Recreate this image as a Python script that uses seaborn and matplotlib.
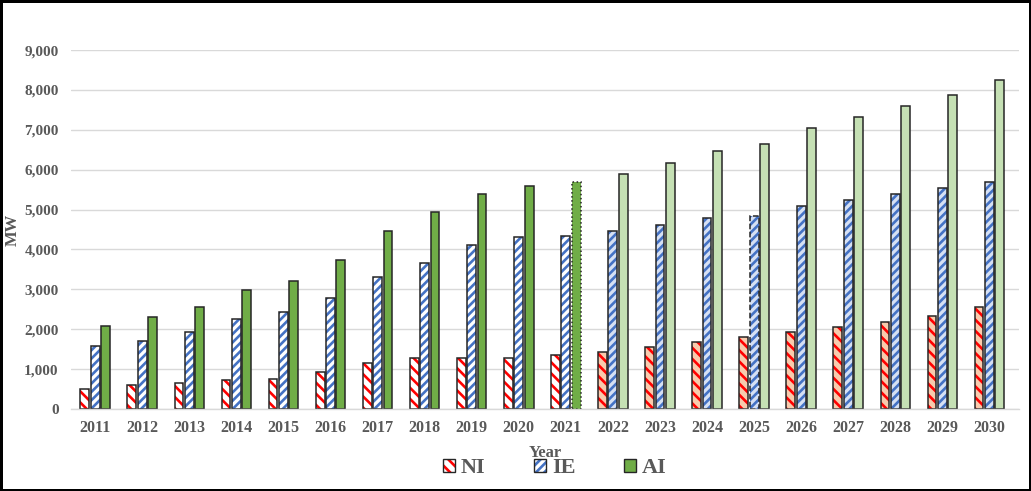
import numpy as np
import pandas as pd
import matplotlib
matplotlib.use('Agg')
import matplotlib.pyplot as plt
import seaborn as sns
from matplotlib.patches import Patch, Rectangle
from matplotlib.ticker import FuncFormatter

# installed capacity by year (MW), 2022 onwards is forecast
years = [str(y) for y in range(2011, 2031)]
ni = [500, 600, 650, 730, 760, 930, 1150, 1270, 1270, 1270,
      1350, 1430, 1560, 1680, 1810, 1930, 2060, 2190, 2330, 2550]
ie = [1580, 1700, 1920, 2260, 2440, 2790, 3310, 3660, 4110, 4320,
      4330, 4470, 4620, 4780, 4840, 5100, 5250, 5400, 5550, 5690]
ai = [2090, 2300, 2560, 2990, 3200, 3730, 4460, 4940, 5390, 5590,
      5680, 5900, 6180, 6470, 6650, 7040, 7310, 7600, 7880, 8250]
regions = ['NI', 'IE', 'AI']
first_forecast = 2022

df = pd.DataFrame({
    'Year': years * 3,
    'MW': ni + ie + ai,
    'Region': np.repeat(regions, len(years)),
})

# styles: (hatch colour, hatch, face actual, face forecast)
styles = {
    'NI': ('#ff0000', '\\\\\\', 'white', '#f8cbad'),
    'IE': ('#4472c4', '////', 'white', '#d6e0f3'),
    'AI': (None, None, '#70ad47', '#c5e0b4'),
}
edge = '#262626'
grey = '#595959'

sns.set_theme(style='white')
plt.rcParams['font.family'] = ['Liberation Serif', 'DejaVu Serif']
plt.rcParams['font.weight'] = 'bold'
plt.rcParams['hatch.linewidth'] = 1.9

fig = plt.figure(figsize=(10.31, 4.91), dpi=100, edgecolor='black', linewidth=2.5)
ax = fig.add_axes([0.069, 0.167, 0.919, 0.731])

sns.barplot(data=df, x='Year', y='MW', hue='Region', hue_order=regions,
            width=0.66, gap=0.15, errorbar=None, saturation=1,
            legend=False, ax=ax)

for container, region in zip(ax.containers, regions):
    hcol, hatch, face_a, face_f = styles[region]
    for bar in container:
        idx = int(round(bar.get_x() + bar.get_width() / 2))
        yr = int(years[idx])
        face = face_f if yr >= first_forecast else face_a
        bar.set_facecolor(face)
        if hatch:
            bar.set_hatch(hatch)
            bar.set_edgecolor(hcol)
        bar.set_linewidth(0)
        ls = '-'
        if region == 'AI' and yr == 2021:
            ls = ':'
        if region == 'IE' and yr == 2025:
            ls = '--'
        ax.add_patch(Rectangle((bar.get_x(), 0), bar.get_width(), bar.get_height(),
                               fill=False, edgecolor=edge, linewidth=1.1,
                               linestyle=ls, zorder=bar.get_zorder() + 0.1))

ax.set_xlim(-0.51, 19.62)
ax.set_ylim(0, 9000)
ax.set_yticks(range(0, 9001, 1000))
ax.yaxis.set_major_formatter(FuncFormatter(lambda v, p: f'{int(v):,}'))
ax.grid(axis='y', color='#d9d9d9', linewidth=1)
ax.set_axisbelow(True)
sns.despine(ax=ax, left=True, top=True, right=True)
ax.spines['bottom'].set_color('#d9d9d9')
ax.spines['bottom'].set_linewidth(1)
ax.tick_params(axis='y', length=0, labelsize=11, labelcolor=grey, pad=9)
ax.tick_params(axis='x', length=0, labelsize=11.5, labelcolor=grey, pad=8)

ax.set_xlabel('Year', fontsize=12, color=grey, fontweight='bold')
ax.xaxis.set_label_coords(0.5, -0.1)
ax.set_ylabel('MW', fontsize=12, color=grey, fontweight='bold')
ax.yaxis.set_label_coords(-0.053, 0.5)

handles = []
for region in regions:
    hcol, hatch, face_a, face_f = styles[region]
    if hatch:
        h = (Patch(facecolor=face_a, edgecolor=hcol, hatch=hatch, linewidth=0),
             Patch(fill=False, edgecolor=edge, linewidth=1))
    else:
        h = Patch(facecolor=face_a, edgecolor=edge, linewidth=1)
    handles.append(h)

leg = fig.legend(handles, regions, loc='center', bbox_to_anchor=(0.538, 0.046),
                 ncol=3, frameon=False, handlelength=0.55, handleheight=0.55,
                 handletextpad=0.25, columnspacing=2.2,
                 prop={'family': 'Liberation Serif', 'weight': 'bold', 'size': 16})
for t in leg.get_texts():
    t.set_color(grey)

fig.savefig('out.png', dpi=100)
